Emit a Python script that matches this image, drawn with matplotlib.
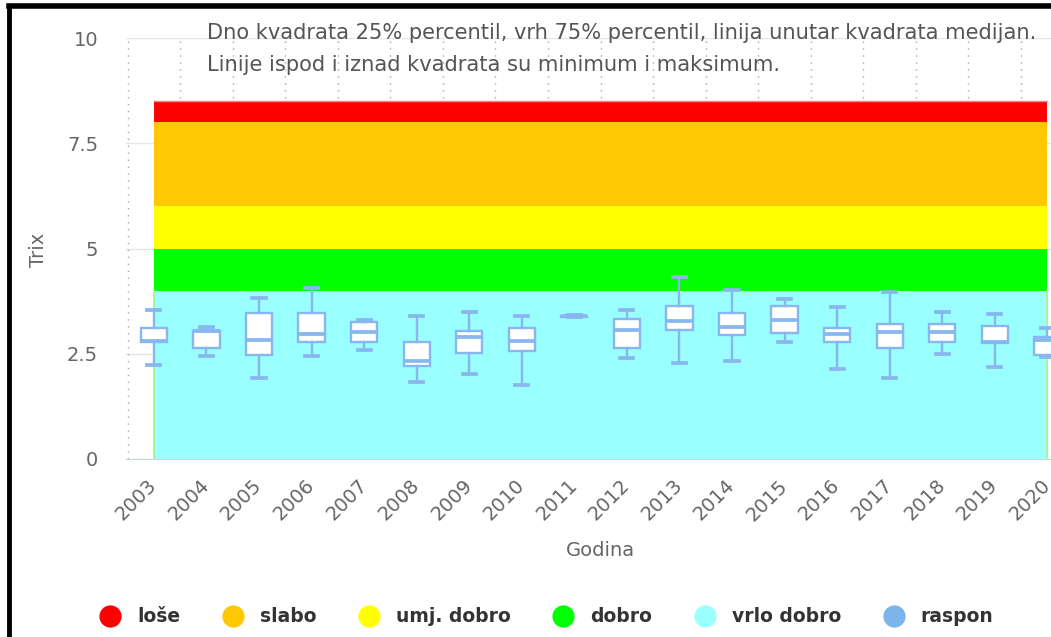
import matplotlib
matplotlib.use("Agg")
import matplotlib.pyplot as plt
from matplotlib.lines import Line2D

plt.rcParams['font.family'] = ['DejaVu Sans']

# data
years = list(range(2003, 2021))
whishi = [3.55, 3.14, 3.83, 4.05, 3.31, 3.40, 3.49, 3.40, 3.41, 3.53, 4.32, 4.01, 3.79, 3.62, 3.97, 3.49, 3.45, 3.10]
q3 = [3.11, 3.03, 3.47, 3.47, 3.25, 2.78, 3.03, 3.11, 3.40, 3.33, 3.63, 3.46, 3.64, 3.11, 3.21, 3.21, 3.15, 2.89]
med = [2.80, 3.03, 2.83, 2.97, 3.02, 2.33, 2.89, 2.80, 3.39, 3.06, 3.27, 3.13, 3.29, 2.97, 3.02, 3.01, 2.78, 2.83]
q1 = [2.79, 2.64, 2.47, 2.78, 2.78, 2.21, 2.52, 2.56, 3.38, 2.64, 3.07, 2.95, 2.99, 2.79, 2.64, 2.79, 2.76, 2.48]
whislo = [2.23, 2.45, 1.93, 2.45, 2.58, 1.84, 2.02, 1.75, 3.37, 2.40, 2.28, 2.33, 2.79, 2.14, 1.93, 2.49, 2.19, 2.42]

# quality bands (Trix limits)
band_names = ['loše', 'slabo', 'umj. dobro', 'dobro', 'vrlo dobro']
band_low = [8, 6, 5, 4, 0]
band_high = [8.5, 8, 6, 5, 4]
band_colors = ['#ff0000', '#ffc800', '#ffff00', '#00ff00', '#99ffff']
range_name = 'raspon'
range_color = '#7cb5ec'
box_color = '#88b6ee'

W, H = 1051, 637
fig = plt.figure(figsize=(W / 100, H / 100), dpi=100)

# axes placed in pixel terms of the reference
left, right, top, bottom = 126, 1051, 38, 459
ax = fig.add_axes([left / W, 1 - bottom / H, (right - left) / W, (bottom - top) / H])

n = len(years)
pos = list(range(n))
ax.set_xlim(-0.53, 17.07)
ax.set_ylim(0, 10)

# grid
for y in [0, 2.5, 5, 7.5, 10]:
    ax.axhline(y, color='#e6e6e6', lw=1, zorder=0)
for i in range(n + 1):
    ax.axvline(i - 0.5, color='#a8a8a8', lw=1, ls=(0, (1, 4)), zorder=0)

# bands
for lo, hi, c in zip(band_low, band_high, band_colors):
    ax.fill_between([0, n - 1], [lo, lo], [hi, hi], color=c, lw=0, zorder=1)
ax.plot([0, 0], [0, 4], color='#a8f08a', lw=1.2, zorder=1.5)
ax.plot([n - 1, n - 1], [0, 4], color='#a8f08a', lw=1.2, zorder=1.5)
ax.plot([0, n - 1], [8.5, 8.5], color='#ff8080', lw=1.0, zorder=1.5)

# box plots
stats = []
for i in range(n):
    stats.append(dict(med=med[i], q1=q1[i], q3=q3[i], whislo=whislo[i], whishi=whishi[i]))
ax.bxp(stats, positions=pos, widths=0.5, capwidths=0.25, showfliers=False,
       patch_artist=True, manage_ticks=False,
       boxprops=dict(facecolor='white', edgecolor=box_color, lw=1.7),
       medianprops=dict(color=box_color, lw=2.7),
       whiskerprops=dict(color=box_color, lw=1.7),
       capprops=dict(color=box_color, lw=2.7),
       zorder=3)

for s in ['top', 'right', 'left']:
    ax.spines[s].set_visible(False)
ax.spines['bottom'].set_color('#ccd6eb')
ax.spines['bottom'].set_zorder(4)

ax.set_xticks(pos)
ax.set_xticklabels([str(y) for y in years], rotation=45, ha='right', va='center',
                   rotation_mode='anchor', fontsize=14, color='#666666')
ax.set_yticks([0, 2.5, 5, 7.5, 10])
ax.set_yticklabels(['0', '2.5', '5', '7.5', '10'], fontsize=14, color='#666666')
ax.tick_params(axis='both', length=0)
ax.tick_params(axis='x', pad=17)
ax.tick_params(axis='y', pad=20)

fig.text(38 / W, 1 - 250 / H, 'Trix', rotation=90, ha='center', va='center',
         fontsize=14, color='#666666')
fig.text(600 / W, 1 - 550 / H, 'Godina', ha='center', va='center',
         fontsize=14, color='#666666')

fig.text(207 / W, 1 - 33 / H,
         'Dno kvadrata 25% percentil, vrh 75% percentil, linija unutar kvadrata medijan.',
         ha='left', va='center', fontsize=15.1, color='#555555')
fig.text(207 / W, 1 - 65 / H,
         'Linije ispod i iznad kvadrata su minimum i maksimum.',
         ha='left', va='center', fontsize=15.1, color='#555555')

# legend
handles = [Line2D([], [], ls='none', marker='o', ms=16, mec='none', mfc=c)
           for c in band_colors + [range_color]]
fig.legend(handles, band_names + [range_name], loc='center', ncol=6,
           bbox_to_anchor=(547 / W, 1 - 617 / H), frameon=False,
           handlelength=1.0, handletextpad=0.95, columnspacing=2.3,
           prop=dict(size=13.5, weight='bold'), labelcolor='#333333')

# black frame of the screenshot
fig.add_artist(Line2D([9 / W, 9 / W], [0, 1 - 6 / H], color='black', lw=3.5,
                      transform=fig.transFigure))
fig.add_artist(Line2D([9 / W, 1], [1 - 6 / H, 1 - 6 / H], color='black', lw=4,
                      transform=fig.transFigure))

fig.savefig('out.png', dpi=100)
